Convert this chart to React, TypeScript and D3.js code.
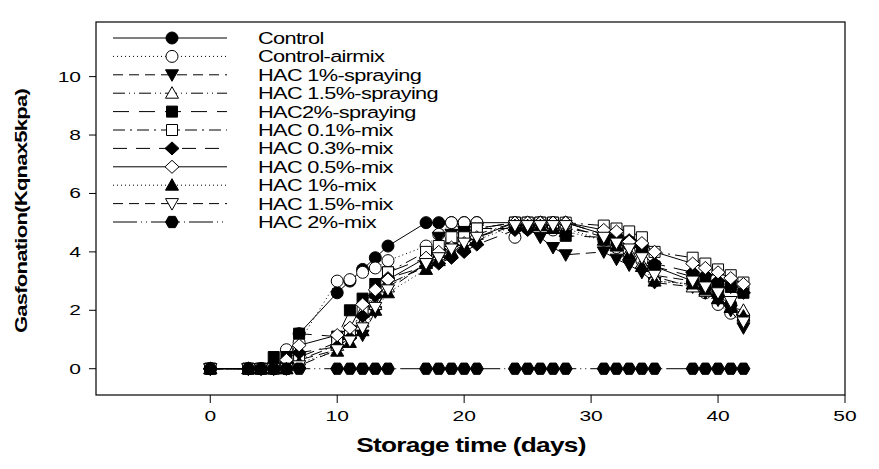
import React from 'react';
import * as d3 from 'd3';

// storage days with a reading
const days = [0, 3, 4, 5, 6, 7, 10, 11, 12, 13, 14, 17, 18, 19, 20, 21, 24, 25, 26, 27, 28, 31, 32, 33, 34, 35, 38, 39, 40, 41, 42];

const control = [0, 0, 0, 0, 0, 1.2, 2.6, 3.0, 3.4, 3.8, 4.2, 5, 5, 5, 5, 5, 5, 5, 5, 5, 5, 4.6, 4.5, 4.3, 4.0, 3.5, 3.0, 2.8, 2.5, 2.2, 1.8];
const controlAirmix = [0, 0, 0, 0, 0.65, 0.9, 3.0, 3.05, 3.3, 3.45, 3.7, 4.2, 4.6, 5.0, 5.0, 5.0, 4.5, 4.8, 5.0, 4.75, 4.8, 4.4, 4.15, 4.0, 3.7, 3.0, 2.9, 2.6, 2.2, 1.9, 1.7];
const hac1Spray = [0, 0, 0, 0, 0, 0.3, 0.65, 1.0, 1.15, 1.95, 2.9, 3.5, 4.5, 4.6, 4.7, 4.8, 4.8, 4.8, 4.5, 4.15, 3.9, 4.0, 3.75, 3.55, 3.3, 2.95, 2.8, 2.6, 2.35, 2.0, 1.4];
const hac15Spray = [0, 0, 0, 0, 0, 0.3, 0.8, 1.2, 1.6, 2.2, 2.8, 3.6, 3.9, 4.2, 4.4, 4.6, 5.0, 5.0, 5.0, 4.9, 4.8, 4.6, 4.3, 4.0, 3.6, 3.15, 2.8, 2.65, 2.4, 2.1, 2.0];
const hac2Spray = [0, 0, 0, 0.4, 0.4, 1.2, 1.1, 2.0, 2.4, 2.9, 3.3, 3.8, 4.0, 4.3, 4.65, 4.8, 5.0, 5.0, 5.0, 5.0, 4.55, 4.5, 4.4, 4.3, 4.1, 3.5, 3.15, 3.0, 2.8, 2.8, 2.6];
const hac01Mix = [0, 0, 0, 0, 0.1, 0.4, 0.9, 1.3, 1.95, 2.6, 3.3, 4.0, 4.2, 4.5, 4.5, 4.8, 5.0, 5.0, 5.0, 5.0, 5.0, 4.9, 4.8, 4.7, 4.5, 4.0, 3.8, 3.6, 3.4, 3.2, 2.95];
const hac03Mix = [0, 0, 0, 0, 0.2, 0.55, 0.75, 1.05, 1.8, 2.5, 3.1, 3.5, 3.6, 3.8, 4.0, 4.25, 4.75, 4.75, 5.0, 5.0, 5.0, 4.6, 4.55, 4.4, 4.2, 3.6, 3.3, 3.2, 3.0, 2.8, 2.6];
const hac05Mix = [0, 0, 0, 0, 0.3, 0.8, 1.15, 1.4, 2.2, 2.7, 3.05, 3.8, 4.0, 4.15, 4.3, 4.5, 5, 5, 5, 5, 5, 4.75, 4.7, 4.35, 4.3, 4.0, 3.6, 3.45, 3.3, 3.1, 2.9];
const hac1Mix = [0, 0, 0, 0, 0, 0.2, 0.6, 0.9, 1.3, 2.0, 2.6, 3.4, 3.7, 4.0, 4.2, 4.4, 4.9, 4.9, 4.9, 4.8, 4.7, 4.4, 4.2, 3.9, 3.5, 3.0, 2.9, 2.7, 2.4, 2.1, 1.8];
const hac15Mix = [0, 0, 0, 0, 0, 0.1, 0.65, 0.95, 1.4, 2.1, 2.7, 3.6, 3.8, 4.1, 4.3, 4.5, 4.9, 4.9, 4.9, 4.9, 4.9, 4.5, 4.3, 4.1, 3.8, 3.2, 3.0, 2.8, 2.6, 2.3, 1.6];
const hac2Mix = [0, 0, 0, 0, 0, 0, 0, 0, 0, 0, 0, 0, 0, 0, 0, 0, 0, 0, 0, 0, 0, 0, 0, 0, 0, 0, 0, 0, 0, 0, 0];

const seriesNames = ['Control', 'Control-airmix', 'HAC 1%-spraying', 'HAC 1.5%-spraying', 'HAC2%-spraying', 'HAC 0.1%-mix', 'HAC 0.3%-mix', 'HAC 0.5%-mix', 'HAC 1%-mix', 'HAC 1.5%-mix', 'HAC 2%-mix'];
const seriesValues = [control, controlAirmix, hac1Spray, hac15Spray, hac2Spray, hac01Mix, hac03Mix, hac05Mix, hac1Mix, hac15Mix, hac2Mix];

const xTicks = [0, 10, 20, 30, 40, 50];
const yTicks = [0, 2, 4, 6, 8, 10];

type Style = { marker: string; filled: boolean; dash: string };
const styles: Style[] = [
  { marker: 'circle', filled: true, dash: '' },
  { marker: 'circle', filled: false, dash: '1,3' },
  { marker: 'down', filled: true, dash: '10,6' },
  { marker: 'up', filled: false, dash: '12,4,1,4,1,4' },
  { marker: 'square', filled: true, dash: '16,10' },
  { marker: 'square', filled: false, dash: '12,5,2,5' },
  { marker: 'diamond', filled: true, dash: '14,9' },
  { marker: 'diamond', filled: false, dash: '' },
  { marker: 'up', filled: true, dash: '1,3' },
  { marker: 'down', filled: false, dash: '10,6' },
  { marker: 'hexagon', filled: true, dash: '24,4,1,4,1,4' },
];

const W = 879;
const H = 469;
const plot = { left: 96, right: 845, top: 22, bottom: 395 };

function markerPath(kind: string): string {
  const p = d3.path();
  if (kind === 'circle') {
    p.moveTo(6, 0);
    p.arc(0, 0, 6, 0, Math.PI * 2);
  } else if (kind === 'square') {
    p.rect(-5.5, -5.5, 11, 11);
  } else if (kind === 'up') {
    p.moveTo(0, -6.5); p.lineTo(6.5, 5); p.lineTo(-6.5, 5); p.closePath();
  } else if (kind === 'down') {
    p.moveTo(0, 6.5); p.lineTo(6.5, -5); p.lineTo(-6.5, -5); p.closePath();
  } else if (kind === 'diamond') {
    p.moveTo(0, -6.5); p.lineTo(7, 0); p.lineTo(0, 6.5); p.lineTo(-7, 0); p.closePath();
  } else {
    for (let i = 0; i < 6; i++) {
      const a = (Math.PI / 3) * i;
      const px = 6.5 * Math.cos(a);
      const py = 6.5 * Math.sin(a);
      if (i === 0) p.moveTo(px, py); else p.lineTo(px, py);
    }
    p.closePath();
  }
  return p.toString();
}

export default function App() {
  const x = d3.scaleLinear().domain([-9, 50]).range([plot.left, plot.right]);
  const y = d3.scaleLinear().domain([-0.9, 11.87]).range([plot.bottom, plot.top]);

  const line = d3.line<number>()
    .defined((v) => v != null)
    .x((_, i) => x(days[i]))
    .y((v) => y(v));

  const font = '"Liberation Sans", Arial, sans-serif';
  const legendY0 = 38;
  const legendStep = 18.4;

  return (
    <svg width={W} height={H} style={{ position: 'absolute', left: 0, top: 0, background: '#fff' }} fontFamily={font}>
      <rect x={0} y={0} width={W} height={H} fill="#fff" />
      {/* frame */}
      <rect x={plot.left} y={plot.top} width={plot.right - plot.left} height={plot.bottom - plot.top} fill="none" stroke="#000" strokeWidth={1.2} />

      {/* y axis */}
      {yTicks.map((t) => (
        <g key={'y' + t}>
          <line x1={plot.left - 7} x2={plot.left} y1={y(t)} y2={y(t)} stroke="#000" />
          <text transform={`translate(81,${y(t) + 5}) scale(1.5,1)`} textAnchor="end" fontSize={14} fill="#000">{t}</text>
        </g>
      ))}
      {/* x axis */}
      {xTicks.map((t) => (
        <g key={'x' + t}>
          <line x1={x(t)} x2={x(t)} y1={plot.bottom} y2={plot.bottom + 8} stroke="#000" />
          <text transform={`translate(${x(t)},421) scale(1.5,1)`} textAnchor="middle" fontSize={14} fill="#000">{t}</text>
        </g>
      ))}

      <text transform="translate(471,452) scale(1.25,1)" textAnchor="middle" fontSize={21} fontWeight="bold" letterSpacing={-0.6} fill="#000">Storage time (days)</text>
      <text transform="translate(27,211) rotate(-90) scale(1.3,1)" textAnchor="middle" fontSize={17} fontWeight="bold" letterSpacing={-0.6} fill="#000">Gasfonation(Kqnax5kpa)</text>

      {/* series */}
      {seriesValues.map((vals, si) => {
        const st = styles[si];
        const d = markerPath(st.marker);
        return (
          <g key={'s' + si}>
            <path d={line(vals) || ''} fill="none" stroke="#000" strokeWidth={1} strokeDasharray={st.dash || undefined} />
            {vals.map((v, i) => (v == null ? null : (
              <path key={i} d={d} transform={`translate(${x(days[i])},${y(v)})`} fill={st.filled ? '#000' : '#fff'} stroke="#000" strokeWidth={1} />
            )))}
          </g>
        );
      })}

      {/* legend */}
      {seriesNames.map((name, i) => {
        const st = styles[i];
        const ly = legendY0 + i * legendStep;
        return (
          <g key={'l' + i}>
            <line x1={113} x2={227} y1={ly} y2={ly} stroke="#000" strokeWidth={1} strokeDasharray={st.dash || undefined} />
            <path d={markerPath(st.marker)} transform={`translate(172,${ly})`} fill={st.filled ? '#000' : '#fff'} stroke="#000" />
            <text transform={`translate(258,${ly + 6}) scale(1.32,1)`} fontSize={16.5} letterSpacing={-0.5} fill="#000">{name}</text>
          </g>
        );
      })}
    </svg>
  );
}
